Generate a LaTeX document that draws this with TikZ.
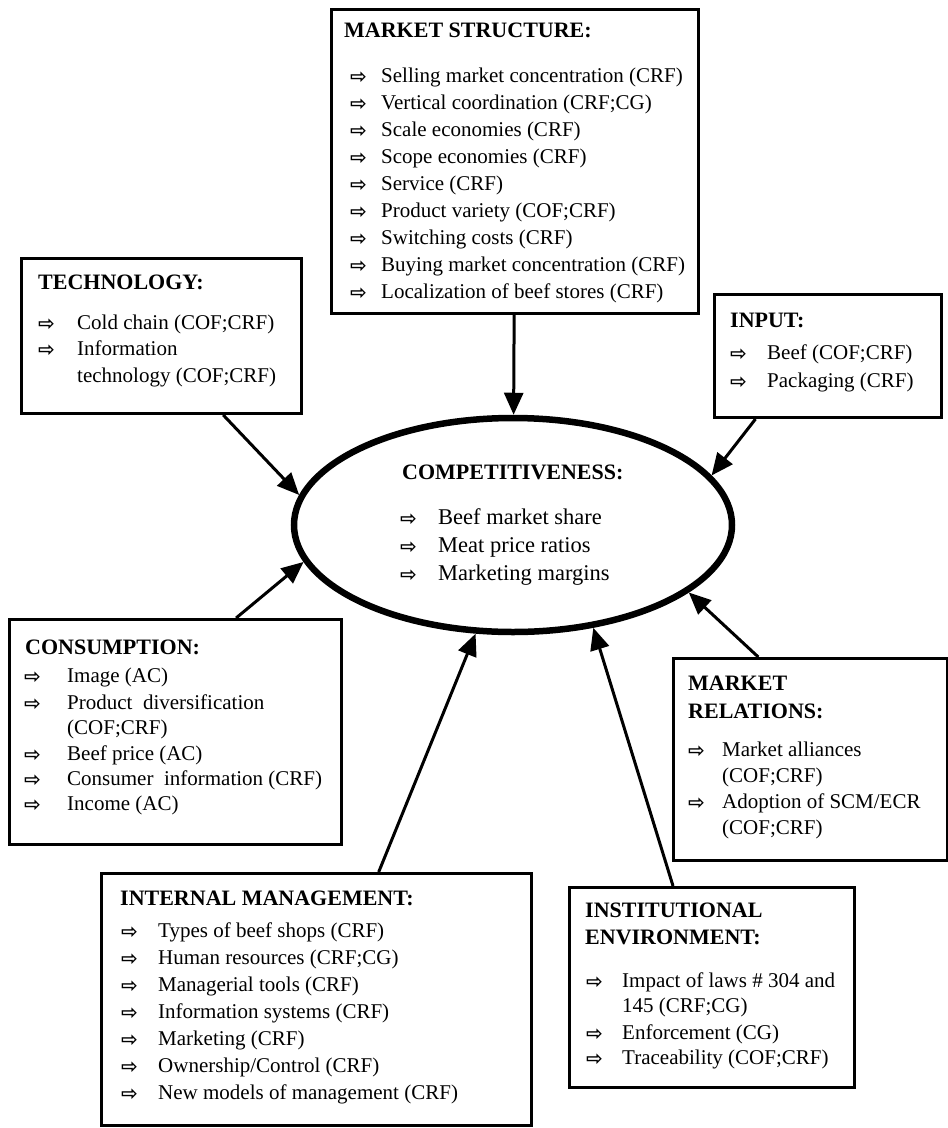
\documentclass[tikz,border=0pt]{standalone}
\usepackage{fontspec}
\setmainfont{Liberation Serif}
\newfontfamily\symfont{DejaVu Sans}
\usepackage{tikz}
\usetikzlibrary{shapes.geometric,arrows.meta}

\tikzset{
 box/.style={draw, line width=3pt, rectangle, inner sep=0pt, anchor=north west},
 head/.style={anchor=base west, inner sep=0pt, font=\bfseries\fontsize{22}{26}\selectfont},
 item/.style={anchor=base west, inner sep=0pt, font=\fontsize{21}{24}\selectfont},
 citem/.style={anchor=base west, inner sep=0pt, font=\fontsize{22.5}{26}\selectfont},
 bul/.style={anchor=base west, inner sep=0pt, font=\symfont\bfseries\fontsize{20}{22}\selectfont},
 link/.style={line width=3pt, -{Triangle[length=22pt,width=19pt]}}
}

\begin{document}
\begin{tikzpicture}[x=1pt,y=-1pt]
\useasboundingbox (0,0) rectangle (948,1128);
% boxes
\node[box, minimum width=367pt, minimum height=304pt] (ms) at (330,8) {};
\node[box, minimum width=280pt, minimum height=155pt] (tech) at (20,257) {};
\node[box, minimum width=227pt, minimum height=123pt] (inp) at (713,293) {};
\node[box, minimum width=332pt, minimum height=225pt] (cons) at (8,618) {};
\node[box, minimum width=274pt, minimum height=202pt] (mr) at (672,657) {};
\node[box, minimum width=285pt, minimum height=200pt] (ie) at (568,886) {};
\node[box, minimum width=430pt, minimum height=252pt] (im) at (100,872) {};
\node[draw, ellipse, line width=6.5pt, minimum width=438pt, minimum height=214pt, inner sep=0pt] (comp) at (513,525) {};

% market structure
\node[head] (ms-h) at (344,37) {MARKET STRUCTURE:};
\foreach \t [count=\i from 0] in {Selling market concentration (CRF), Vertical coordination (CRF;CG),
  Scale economies (CRF), Scope economies (CRF), Service (CRF), Product variety (COF;CRF),
  Switching costs (CRF), Buying market concentration (CRF), Localization of beef stores (CRF)}
 {\node[bul] (ms-b\i) at (350,83+27*\i) {⇨};
  \node[item] (ms-t\i) at (381,82+27*\i) {\t};}

% technology
\node[head] (tech-h) at (38,289) {TECHNOLOGY:};
\node[bul] (tech-b0) at (38,330) {⇨};
\node[item] (tech-t0) at (77,329) {Cold chain (COF;CRF)};
\node[bul] (tech-b1) at (38,356) {⇨};
\node[item] (tech-t1) at (77,355) {Information};
\node[item] (tech-t2) at (77,382) {technology (COF;CRF)};

% input
\node[head] (inp-h) at (730,327) {INPUT:};
\node[bul] (inp-b0) at (730,360) {⇨};
\node[item] (inp-t0) at (767,359) {Beef (COF;CRF)};
\node[bul] (inp-b1) at (730,388) {⇨};
\node[item] (inp-t1) at (767,387) {Packaging (CRF)};

% competitiveness
\node[head] (comp-h) at (402,479) {COMPETITIVENESS:};
\node[bul] (comp-b0) at (400,525) {⇨};
\node[citem] (comp-t0) at (438,524) {Beef market share};
\node[bul] (comp-b1) at (400,553) {⇨};
\node[citem] (comp-t1) at (438,552) {Meat price ratios};
\node[bul] (comp-b2) at (400,581) {⇨};
\node[citem] (comp-t2) at (438,580) {Marketing margins};

% consumption
\node[head] (cons-h) at (25,654) {CONSUMPTION:};
\node[bul] (cons-b0) at (24,683) {⇨};
\node[item] (cons-t0) at (67,682) {Image (AC)};
\node[bul] (cons-b1) at (24,710) {⇨};
\node[item] (cons-t1) at (67,709) {Product\ \ diversification};
\node[item] (cons-t2) at (67,734) {(COF;CRF)};
\node[bul] (cons-b3) at (24,761) {⇨};
\node[item] (cons-t3) at (67,760) {Beef price (AC)};
\node[bul] (cons-b4) at (24,786) {⇨};
\node[item] (cons-t4) at (67,785) {Consumer\ \ information (CRF)};
\node[bul] (cons-b5) at (24,811) {⇨};
\node[item] (cons-t5) at (67,810) {Income (AC)};

% market relations
\node[head] (mr-h0) at (688,690) {MARKET};
\node[head] (mr-h1) at (688,718) {RELATIONS:};
\node[bul] (mr-b0) at (688,757) {⇨};
\node[item] (mr-t0) at (722,756) {Market alliances};
\node[item] (mr-t1) at (722,782) {(COF;CRF)};
\node[bul] (mr-b2) at (688,809) {⇨};
\node[item] (mr-t2) at (722,808) {Adoption of SCM/ECR};
\node[item] (mr-t3) at (722,834) {(COF;CRF)};

% institutional environment
\node[head] (ie-h0) at (585,917) {INSTITUTIONAL};
\node[head] (ie-h1) at (585,944) {ENVIRONMENT:};
\node[bul] (ie-b0) at (586,988) {⇨};
\node[item] (ie-t0) at (622,987) {Impact of laws \# 304 and};
\node[item] (ie-t1) at (622,1012) {145 (CRF;CG)};
\node[bul] (ie-b2) at (586,1040) {⇨};
\node[item] (ie-t2) at (622,1039) {Enforcement (CG)};
\node[bul] (ie-b3) at (586,1065) {⇨};
\node[item] (ie-t3) at (622,1064) {Traceability (COF;CRF)};

% internal management
\node[head] (im-h) at (120,905) {INTERNAL MANAGEMENT:};
\foreach \t [count=\i from 0] in {Types of beef shops (CRF), Human resources (CRF;CG),
  Managerial tools (CRF), Information systems (CRF), Marketing (CRF),
  Ownership/Control (CRF), New models of management (CRF)}
 {\node[bul] (im-b\i) at (121,938+27*\i) {⇨};
  \node[item] (im-t\i) at (158,937+27*\i) {\t};}

% arrows
\draw[link] (ms) -- (comp);
\draw[link] (tech.-52) -- (comp.172);
\draw[link] (inp.221.5) -- (comp.14);
\draw[link] (cons.62) -- (comp.190);
\draw[link] (mr.117) -- (comp.339);
\draw[link] (ie.111) -- (comp.308);
\draw[link] (im.64.5) -- (comp.251);
\end{tikzpicture}
\end{document}
